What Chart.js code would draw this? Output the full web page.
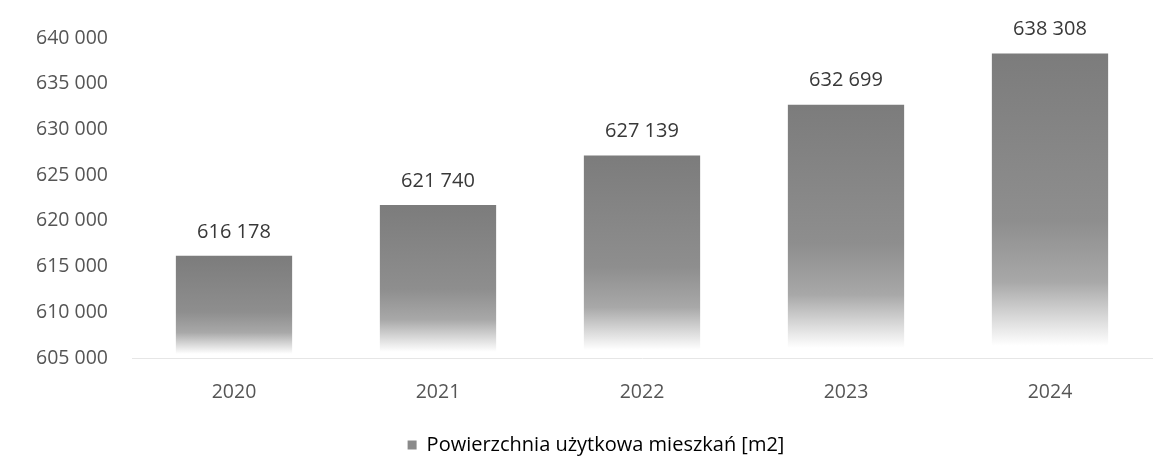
<!DOCTYPE html>
<html>
<head>
<meta charset="utf-8">
<script src="https://cdn.jsdelivr.net/npm/chart.js@4"></script>
<style>
  html, body { margin: 0; padding: 0; background: #fff; }
  #wrap { width: 1165px; height: 471px; }
</style>
</head>
<body>
<div id="wrap"><canvas id="myChart"></canvas></div>
<script>
const years = ['2020', '2021', '2022', '2023', '2024'];
const area = [616178, 621740, 627139, 632699, 638308];
const seriesName = 'Powierzchnia użytkowa mieszkań [m2]';
const yMin = 605000;
const yMax = 640000;
const yStep = 5000;

const fontFamily = "'Open Sans', 'Lato', sans-serif";

// spaces as thousand separator, like the Polish original
const fmt = v => String(v).replace(/\B(?=(\d{3})+(?!\d))/g, ' ');

function barGradient(context) {
    const chart = context.chart;
    if (!chart.chartArea || context.dataIndex === undefined) return '#8c8c8c';
    const y = chart.scales.y;
    const top = y.getPixelForValue(context.raw);
    const bottom = y.getPixelForValue(yMin);
    const g = chart.ctx.createLinearGradient(0, top, 0, bottom);
    g.addColorStop(0, '#7c7c7c');
    g.addColorStop(0.55, '#8e8e8e');
    g.addColorStop(0.75, '#a8a8a8');
    g.addColorStop(0.88, '#dedede');
    g.addColorStop(0.96, '#ffffff');
    g.addColorStop(1, '#ffffff');
    return g;
}

const valueLabels = {
    id: 'valueLabels',
    afterDatasetsDraw(chart) {
        const ctx = chart.ctx;
        const meta = chart.getDatasetMeta(0);
        ctx.save();
        ctx.font = '20px ' + fontFamily;
        ctx.fillStyle = '#383838';
        ctx.textAlign = 'center';
        ctx.textBaseline = 'middle';
        meta.data.forEach((bar, i) => {
            ctx.fillText(fmt(area[i]), bar.x, bar.y - 24);
        });
        ctx.restore();
    }
};

// the legend in the original sits a bit right of the page centre
const legendShift = {
    id: 'legendShift',
    afterLayout(chart) {
        chart.legend.left += 20;
        chart.legend.right += 20;
    }
};

const ctx = document.getElementById('myChart');
new Chart(ctx, {
    type: 'bar',
    data: {
        labels: years,
        datasets: [{
            label: seriesName,
            data: area,
            backgroundColor: barGradient,
            borderWidth: 0,
            categoryPercentage: 1,
            barPercentage: 0.57
        }]
    },
    options: {
        responsive: true,
        maintainAspectRatio: false,
        animation: false,
        layout: { padding: { top: 38, right: 13, left: 0, bottom: 6 } },
        scales: {
            y: {
                min: yMin,
                max: yMax,
                grid: { display: false, drawTicks: false },
                border: { display: false },
                ticks: {
                    stepSize: yStep,
                    padding: 24,
                    color: '#555555',
                    font: { family: fontFamily, size: 19.5 },
                    callback: v => fmt(v)
                },
                afterFit(scale) { scale.width = 132; }
            },
            x: {
                grid: { display: false, drawTicks: false },
                border: { display: true, color: '#e6e6e6', width: 1 },
                ticks: {
                    padding: 23,
                    color: '#555555',
                    font: { family: fontFamily, size: 19.5 }
                },
                afterFit(scale) { scale.height = 70; }
            }
        },
        plugins: {
            tooltip: { enabled: false },
            legend: {
                position: 'bottom',
                labels: {
                    boxWidth: 9,
                    boxHeight: 9,
                    padding: 7,
                    color: '#454545',
                    font: { family: fontFamily, size: 20 },
                    generateLabels: chart => [{
                        text: seriesName,
                        fillStyle: '#8a8a8a',
                        strokeStyle: '#8a8a8a',
                        lineWidth: 0,
                        datasetIndex: 0
                    }]
                }
            }
        }
    },
    plugins: [valueLabels, legendShift]
});
</script>
</body>
</html>
